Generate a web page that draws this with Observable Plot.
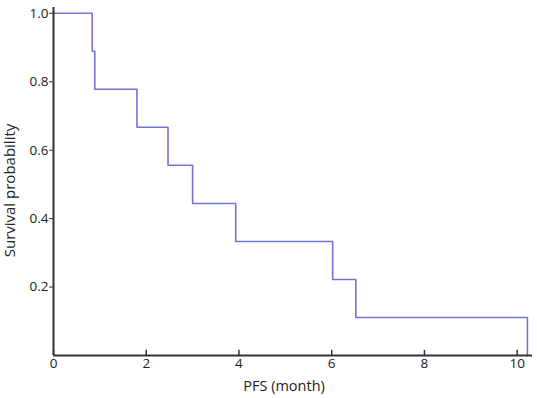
<!DOCTYPE html>
<html>
<head>
<meta charset="utf-8">
<script src="https://cdn.jsdelivr.net/npm/d3@7"></script>
<script src="https://cdn.jsdelivr.net/npm/@observablehq/plot@0.6"></script>
<style>
  html, body { margin: 0; padding: 0; background: #fff; }
  svg { display: block; }
</style>
</head>
<body>
<div id="chart"></div>
<script>
const times = [0, 0.835, 0.89, 1.8, 2.47, 3.0, 3.93, 6.02, 6.52, 10.22];
const survival = [1.0, 0.889, 0.778, 0.667, 0.556, 0.444, 0.333, 0.222, 0.111, 0.0];
const xTicks = [0, 2, 4, 6, 8, 10];
const yTicks = [0.2, 0.4, 0.6, 0.8, 1.0];

const data = times.map((t, i) => ({t, s: survival[i]}));
const axisColor = "#333";
const font = "'Open Sans', sans-serif";

const chart = Plot.plot({
  width: 537,
  height: 398,
  marginLeft: 53,
  marginRight: 5,
  marginTop: 7,
  marginBottom: 43,
  style: {fontFamily: font, fontSize: "13px", color: "#222", background: "#fff"},
  x: {domain: [0, 10.33]},
  y: {domain: [0, 1.017]},
  marks: [
    Plot.axisX(xTicks, {tickSize: 0, tickPadding: 3, tickFormat: d => String(d), label: null, fontSize: 13.5}),
    Plot.axisY(yTicks, {tickSize: 4, tickPadding: 1, tickFormat: d3.format(".1f"), label: null, stroke: axisColor, fontSize: 13.5}),
    Plot.ruleX(xTicks, {y1: 0, y2: 0.015, stroke: axisColor, strokeWidth: 1.5}),
    Plot.line(data, {x: "t", y: "s", curve: "step-after", stroke: "#7373da", strokeWidth: 1.6}),
    Plot.ruleY([0], {stroke: axisColor, strokeWidth: 2}),
    Plot.ruleX([0], {stroke: axisColor, strokeWidth: 2}),
    Plot.text(["PFS (month)"], {frameAnchor: "bottom", textAnchor: "middle", dy: 35, dx: -9, fontSize: 14.5, fill: "#222"}),
    Plot.text(["Survival probability"], {frameAnchor: "left", textAnchor: "middle", dx: -43, dy: 9, rotate: -90, fontSize: 15, fill: "#222"})
  ]
});
document.getElementById("chart").appendChild(chart);
</script>
</body>
</html>
